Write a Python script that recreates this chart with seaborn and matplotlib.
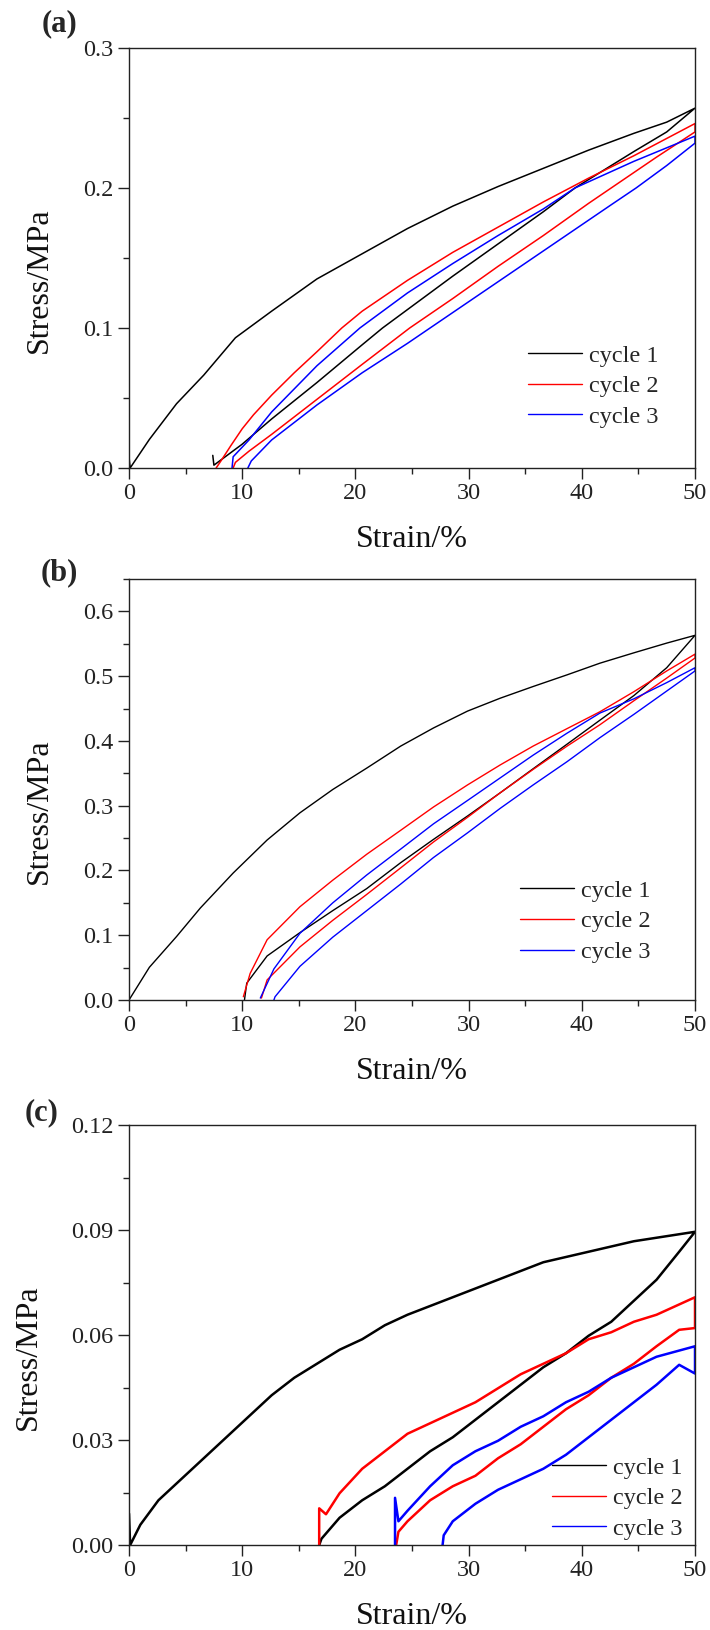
import pandas as pd
import seaborn as sns
import matplotlib.pyplot as plt
from matplotlib.ticker import MultipleLocator, FormatStrFormatter

# ---- (a) ---- loading + unloading for each cycle
a_c1_x = [0, 0.1, 1.8, 4.2, 6.6, 9.4, 12.6, 16.6, 20.6, 24.6, 28.6, 32.6, 36.6, 40.6, 44.6, 47.5, 50,
          47.5, 44.6, 39.4, 36.6, 32.6, 28.6, 22.4, 20.6, 16.6, 12.6, 10.0, 8.0, 7.5, 7.4]
a_c1_y = [0.008, 0.0, 0.0204, 0.0459, 0.0663, 0.093, 0.112, 0.135, 0.153, 0.171, 0.187, 0.201, 0.214, 0.227, 0.239, 0.247, 0.257,
          0.240, 0.226, 0.200, 0.183, 0.160, 0.137, 0.100, 0.088, 0.061, 0.035, 0.017, 0.005, 0.002, 0.009]
a_c2_x = [7.7, 8.2, 9.0, 10.0, 11.0, 12.6, 14.6, 16.6, 18.8, 20.6, 24.6, 28.6, 32.6, 36.6, 40.6, 44.6, 50,
          50, 46.6, 42.6, 40.6, 36.6, 32.6, 28.6, 24.8, 20.6, 16.6, 12.6, 10.6, 9.4, 9.2]
a_c2_y = [0.0, 0.006, 0.016, 0.028, 0.038, 0.052, 0.068, 0.083, 0.100, 0.112, 0.134, 0.154, 0.172, 0.190, 0.207, 0.223, 0.246,
          0.240, 0.222, 0.200, 0.189, 0.166, 0.144, 0.121, 0.100, 0.074, 0.049, 0.024, 0.012, 0.004, 0.0]
a_c3_x = [9.1, 9.2, 10.6, 12.6, 16.6, 20.4, 24.6, 28.6, 32.6, 36.6, 39.4, 44.6, 50,
          50, 47.5, 44.8, 42.6, 38.6, 34.6, 30.6, 26.6, 24.6, 20.6, 16.6, 12.6, 10.8, 10.5]
a_c3_y = [0.0, 0.008, 0.020, 0.040, 0.073, 0.100, 0.125, 0.146, 0.166, 0.185, 0.200, 0.219, 0.237,
          0.232, 0.216, 0.200, 0.188, 0.166, 0.144, 0.122, 0.100, 0.089, 0.068, 0.045, 0.020, 0.005, 0.0]

# ---- (b) ----
b_c1_x = [0, 1.8, 4.2, 6.3, 9.2, 12.2, 15.1, 18.0, 21.0, 24.0, 26.9, 29.9, 32.8, 35.7, 38.7, 41.6, 44.6, 47.5, 50,
          47.5, 44.6, 41.6, 38.7, 35.7, 32.8, 29.9, 26.9, 24.0, 21.0, 18.0, 15.1, 12.2, 10.4, 10.2]
b_c1_y = [0.0, 0.0505, 0.098, 0.142, 0.196, 0.247, 0.289, 0.325, 0.358, 0.392, 0.420, 0.446, 0.466, 0.484, 0.502, 0.520, 0.536, 0.551, 0.563,
          0.513, 0.470, 0.432, 0.395, 0.357, 0.320, 0.284, 0.248, 0.212, 0.172, 0.138, 0.104, 0.068, 0.026, 0.0]
b_c2_x = [10.1, 10.7, 12.2, 15.1, 18.0, 21.0, 24.0, 26.9, 29.9, 32.8, 35.7, 38.7, 41.6, 44.6, 47.5, 50,
          50, 47.5, 44.6, 41.6, 38.7, 35.7, 32.8, 29.9, 26.9, 24.0, 21.0, 18.0, 15.1, 12.2, 11.7]
b_c2_y = [0.005, 0.041, 0.093, 0.144, 0.185, 0.225, 0.262, 0.298, 0.332, 0.363, 0.392, 0.419, 0.445, 0.476, 0.508, 0.534,
          0.528, 0.497, 0.462, 0.425, 0.392, 0.356, 0.320, 0.282, 0.244, 0.204, 0.163, 0.123, 0.082, 0.031, 0.003]
b_c3_x = [11.6, 12.8, 15.1, 18.0, 21.0, 24.0, 26.9, 29.9, 32.8, 35.7, 38.7, 41.6, 44.6, 47.5, 50,
          50, 47.5, 44.6, 41.6, 38.7, 35.7, 32.8, 29.9, 26.9, 24.0, 21.0, 18.0, 15.1, 12.9, 12.8]
b_c3_y = [0.003, 0.048, 0.103, 0.150, 0.193, 0.233, 0.272, 0.308, 0.343, 0.378, 0.412, 0.443, 0.465, 0.490, 0.513,
          0.508, 0.477, 0.441, 0.405, 0.368, 0.332, 0.296, 0.258, 0.220, 0.179, 0.138, 0.097, 0.052, 0.005, 0.0]

# ---- (c) ----
c_c1_x = [0, 0.1, 1.0, 2.6, 4.6, 6.6, 8.6, 10.6, 12.6, 14.6, 16.6, 18.6, 20.6, 22.6, 24.6, 28.6, 32.6, 36.6, 40.6, 44.6, 48, 50,
          48.6, 46.6, 44.6, 42.6, 40.6, 38.6, 36.6, 34.6, 32.6, 30.6, 28.6, 26.6, 24.6, 22.6, 20.6, 18.6, 17.0, 16.8]
c_c1_y = [0.009, 0.0, 0.0058, 0.0128, 0.0188, 0.0248, 0.0308, 0.0368, 0.0428, 0.0478, 0.0518, 0.0558, 0.0588, 0.0628, 0.0658,
          0.0708, 0.0758, 0.0808, 0.0838, 0.0868, 0.0885, 0.0895,
          0.0838, 0.0758, 0.0698, 0.0638, 0.0598, 0.0548, 0.0508, 0.0458, 0.0408, 0.0358, 0.0308, 0.0268, 0.0218, 0.0168,
          0.0128, 0.0078, 0.0018, 0.0]
c_c2_x = [16.8, 16.8, 17.4, 18.6, 20.6, 22.6, 24.6, 26.6, 28.6, 30.6, 32.6, 34.6, 36.6, 38.6, 40.6, 42.6, 44.6, 46.6, 50,
          50, 48.6, 46.6, 44.6, 42.6, 40.6, 38.6, 36.6, 34.6, 32.6, 30.6, 28.6, 26.6, 24.6, 23.8, 23.6]
c_c2_y = [0.0, 0.0105, 0.0088, 0.0148, 0.0218, 0.0268, 0.0318, 0.0348, 0.0378, 0.0408, 0.0448, 0.0488, 0.0518, 0.0548, 0.0588,
          0.0608, 0.0638, 0.0658, 0.0708,
          0.062, 0.0615, 0.0568, 0.0518, 0.0478, 0.0428, 0.0388, 0.0338, 0.0288, 0.0248, 0.0198, 0.0168, 0.0128, 0.0068, 0.0038, 0.0]
c_c3_x = [23.5, 23.5, 23.8, 24.6, 26.6, 28.6, 30.6, 32.6, 34.6, 36.6, 38.6, 40.6, 42.6, 44.6, 46.6, 50,
          50, 48.6, 46.6, 44.6, 42.6, 40.6, 38.6, 36.6, 34.6, 32.6, 30.6, 28.6, 27.8, 27.7]
c_c3_y = [0.0, 0.0135, 0.0068, 0.0098, 0.0168, 0.0228, 0.0268, 0.0298, 0.0338, 0.0368, 0.0408, 0.0438, 0.0478, 0.0508, 0.0538, 0.0568,
          0.049, 0.0515, 0.0458, 0.0408, 0.0358, 0.0308, 0.0258, 0.0218, 0.0188, 0.0158, 0.0118, 0.0068, 0.0028, 0.0]

cycles = ['cycle 1', 'cycle 2', 'cycle 3']
colors = ['#000000', '#ff0000', '#0000ff']

sns.set_style('ticks')
plt.rcParams['font.family'] = ['Liberation Serif', 'DejaVu Serif']


def make_df(xs_list, ys_list):
    frames = []
    for name, xs, ys in zip(cycles, xs_list, ys_list):
        frames.append(pd.DataFrame({'strain': xs, 'stress': ys, 'cycle': name}))
    return pd.concat(frames, ignore_index=True)


panels = [
    dict(df=make_df([a_c1_x, a_c2_x, a_c3_x], [a_c1_y, a_c2_y, a_c3_y]),
         rect=[0.1817, 0.7129, 0.7972, 0.2577], ylim=0.3, major=0.1, fmt='%.1f', lw=1.1,
         leg=(0.705, 0.195), ylab=(-0.1325, 0.448), tag='(a)', tagpos=(0.0831, 0.9853)),
    dict(df=make_df([b_c1_x, b_c2_x, b_c3_x], [b_c1_y, b_c2_y, b_c3_y]),
         rect=[0.1817, 0.3865, 0.7972, 0.2583], ylim=0.65, major=0.1, fmt='%.1f', lw=1.0,
         leg=(0.691, 0.1865), ylab=(-0.1325, 0.448), tag='(b)', tagpos=(0.0831, 0.6485)),
    dict(df=make_df([c_c1_x, c_c2_x, c_c3_x], [c_c1_y, c_c2_y, c_c3_y]),
         rect=[0.1817, 0.0521, 0.7972, 0.2577], ylim=0.12, major=0.03, fmt='%.2f', lw=1.8,
         leg=(0.747, 0.112), ylab=(-0.152, 0.448), tag='(c)', tagpos=(0.0592, 0.3172)),
]

fig = plt.figure(figsize=(7.1, 16.3), dpi=100)

for p in panels:
    ax = fig.add_axes(p['rect'])
    sns.lineplot(data=p['df'], x='strain', y='stress', hue='cycle', palette=colors,
                 sort=False, estimator=None, linewidth=p['lw'], ax=ax)
    ax.set_xlim(0, 50)
    ax.set_ylim(0, p['ylim'])
    ax.xaxis.set_major_locator(MultipleLocator(10))
    ax.xaxis.set_minor_locator(MultipleLocator(5))
    ax.yaxis.set_major_locator(MultipleLocator(p['major']))
    ax.yaxis.set_minor_locator(MultipleLocator(p['major'] / 2))
    ax.yaxis.set_major_formatter(FormatStrFormatter(p['fmt']))
    ax.tick_params(which='both', direction='out', top=False, right=False,
                   color='#222222', labelcolor='#222222', width=1.0)
    ax.tick_params(which='major', length=8, labelsize=17.5, pad=3)
    ax.tick_params(which='minor', length=4)
    for s in ax.spines.values():
        s.set_color('#222222')
        s.set_linewidth(1.0)
    ax.set_xlabel('Strain/%', fontsize=23, color='#111111')
    ax.set_ylabel('Stress/MPa', fontsize=23, color='#111111')
    ax.xaxis.set_label_coords(0.5, -0.135)
    ax.yaxis.set_label_coords(*p['ylab'])

    handles, labels = ax.get_legend_handles_labels()
    for h in handles:
        h.set_linewidth(1.0)
    ax.legend(handles, labels, loc='center left', bbox_to_anchor=p['leg'], frameon=False,
              fontsize=17.5, handlelength=2.22, handletextpad=0.3, labelspacing=0.35,
              borderpad=0, borderaxespad=0)

    fig.text(p['tagpos'][0], p['tagpos'][1], p['tag'], fontsize=22, fontweight='bold',
             ha='center', va='center')

fig.savefig('out.png', dpi=100)
